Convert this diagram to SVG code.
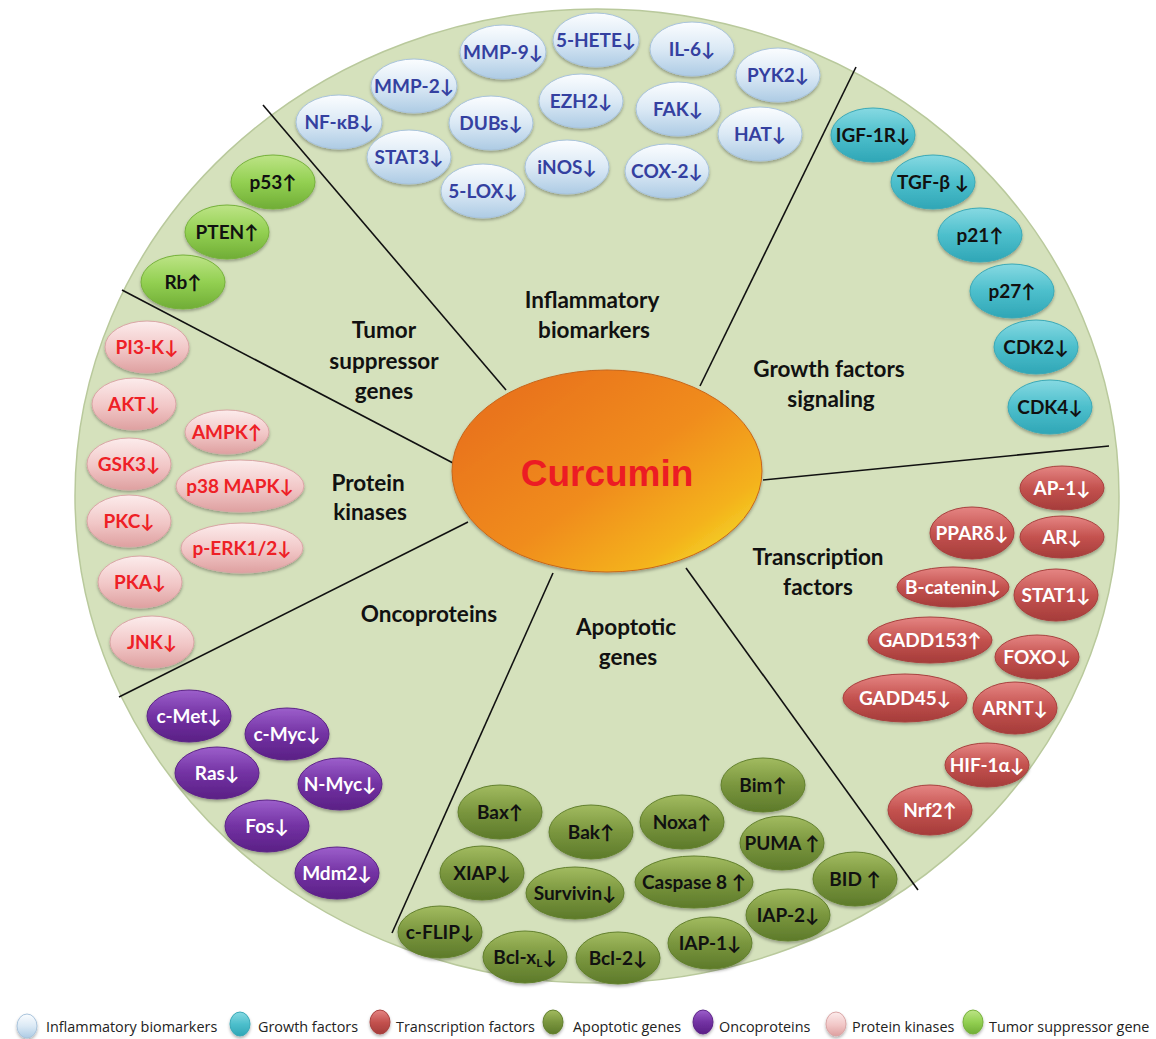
<svg xmlns="http://www.w3.org/2000/svg" width="1156" height="1039" viewBox="0 0 1156 1039">
<defs>
<linearGradient id="gBlue" x1="0" y1="0" x2="0" y2="1"><stop offset="0" stop-color="#fbfdff"/><stop offset="0.5" stop-color="#dbe9f5"/><stop offset="1" stop-color="#adcbe4"/></linearGradient>
<linearGradient id="gTeal" x1="0" y1="0" x2="0" y2="1"><stop offset="0" stop-color="#86d9e2"/><stop offset="0.5" stop-color="#4dbfcc"/><stop offset="1" stop-color="#2fa6b6"/></linearGradient>
<linearGradient id="gRed" x1="0" y1="0" x2="0" y2="1"><stop offset="0" stop-color="#e58583"/><stop offset="0.5" stop-color="#c4524f"/><stop offset="1" stop-color="#a53c3a"/></linearGradient>
<linearGradient id="gOlive" x1="0" y1="0" x2="0" y2="1"><stop offset="0" stop-color="#a2bb60"/><stop offset="0.5" stop-color="#7a963e"/><stop offset="1" stop-color="#5d7a2a"/></linearGradient>
<linearGradient id="gPurple" x1="0" y1="0" x2="0" y2="1"><stop offset="0" stop-color="#9c5fcb"/><stop offset="0.5" stop-color="#7332a3"/><stop offset="1" stop-color="#5a2085"/></linearGradient>
<linearGradient id="gPink" x1="0" y1="0" x2="0" y2="1"><stop offset="0" stop-color="#fcecec"/><stop offset="0.55" stop-color="#f1c6c6"/><stop offset="1" stop-color="#dea0a0"/></linearGradient>
<linearGradient id="gGreen" x1="0" y1="0" x2="0" y2="1"><stop offset="0" stop-color="#bde486"/><stop offset="0.5" stop-color="#93d052"/><stop offset="1" stop-color="#70ad36"/></linearGradient>
<linearGradient id="gCur" x1="0.05" y1="0.15" x2="0.95" y2="0.95"><stop offset="0" stop-color="#e8701e"/><stop offset="0.5" stop-color="#f08c1b"/><stop offset="0.8" stop-color="#f4b21a"/><stop offset="1" stop-color="#f2e331"/></linearGradient>
<filter id="sh" x="-20%" y="-20%" width="140%" height="150%"><feDropShadow dx="0" dy="2" stdDeviation="1.5" flood-color="#000" flood-opacity="0.3"/></filter>
<style>
.bg{fill:#d5e1bc;stroke:#b9c99c;stroke-width:1.5}
.div{stroke:#111;stroke-width:1.6;fill:none}
ellipse.n{filter:url(#sh);stroke-width:1}
.blue{fill:url(#gBlue);stroke:#a8c3dc}
.teal{fill:url(#gTeal);stroke:#3aa9b7}
.red{fill:url(#gRed);stroke:#a8403e}
.olive{fill:url(#gOlive);stroke:#62802d}
.purple{fill:url(#gPurple);stroke:#5d2388}
.pink{fill:url(#gPink);stroke:#d9a5a5}
.green{fill:url(#gGreen);stroke:#76b13b}
text{font-family:Lato,"DejaVu Sans",sans-serif;font-weight:bold;text-anchor:middle}
.t{font-size:19px}
.tb{fill:#3440a0}
.tk{fill:#111}
.tw{fill:#fff}
.tr{fill:#ee2026}
.lab{font-size:22.5px;fill:#111}
.leg{font-family:"Open Sans","DejaVu Sans",sans-serif;font-weight:normal;font-size:14.4px;fill:#222;text-anchor:start}
</style>
</defs>
<rect width="1156" height="1039" fill="#fff"/>
<ellipse class="bg" cx="597" cy="496" rx="522" ry="487"/>

<g id="connectors">
<line class="div" x1="263" y1="105" x2="506" y2="390"/>
<line class="div" x1="122" y1="290" x2="453" y2="463"/>
<line class="div" x1="119" y1="697" x2="468" y2="522"/>
<line class="div" x1="553" y1="573" x2="392" y2="933"/>
<line class="div" x1="686" y1="568" x2="918" y2="890"/>
<line class="div" x1="763" y1="480" x2="1109" y2="446"/>
<line class="div" x1="700" y1="386" x2="856" y2="67"/>
</g>

<g id="curcumin"><ellipse cx="607" cy="471" rx="155" ry="101" fill="url(#gCur)" stroke="#c8661a" stroke-width="1" filter="url(#sh)"/><text x="607" y="486" style="font-family:'Liberation Sans',Arial,sans-serif;font-size:37px;fill:#ec1c24">Curcumin</text></g>

<g id="labels">
<text class="lab" x="592" y="308">Inflammatory</text><text class="lab" x="594" y="338">biomarkers</text>
<text class="lab" x="384" y="338">Tumor</text><text class="lab" x="384" y="369">suppressor</text><text class="lab" x="384" y="399">genes</text>
<text class="lab" x="829" y="377">Growth factors</text><text class="lab" x="831" y="407">signaling</text>
<text class="lab" x="368" y="491">Protein</text><text class="lab" x="370" y="520">kinases</text>
<text class="lab" x="818" y="565">Transcription</text><text class="lab" x="818" y="595">factors</text>
<text class="lab" x="429" y="622">Oncoproteins</text>
<text class="lab" x="626" y="635">Apoptotic</text><text class="lab" x="628" y="665">genes</text>
</g>

<!-- Inflammatory biomarkers -->
<g id="n-mmp9"><ellipse class="n blue" cx="503" cy="52" rx="43" ry="27"/><text class="t tb" x="503" y="59">MMP-9↓</text></g>
<g id="n-5hete"><ellipse class="n blue" cx="596" cy="40" rx="43" ry="27"/><text class="t tb" x="596" y="47">5-HETE↓</text></g>
<g id="n-il6"><ellipse class="n blue" cx="692" cy="49" rx="42" ry="27"/><text class="t tb" x="692" y="56">IL-6↓</text></g>
<g id="n-pyk2"><ellipse class="n blue" cx="778" cy="75" rx="42" ry="27"/><text class="t tb" x="778" y="82">PYK2↓</text></g>
<g id="n-mmp2"><ellipse class="n blue" cx="414" cy="86" rx="43" ry="27"/><text class="t tb" x="414" y="93">MMP-2↓</text></g>
<g id="n-ezh2"><ellipse class="n blue" cx="581" cy="101" rx="42" ry="27"/><text class="t tb" x="581" y="108">EZH2↓</text></g>
<g id="n-fak"><ellipse class="n blue" cx="678" cy="109" rx="42" ry="27"/><text class="t tb" x="678" y="116">FAK↓</text></g>
<g id="n-hat"><ellipse class="n blue" cx="760" cy="134" rx="42" ry="27"/><text class="t tb" x="760" y="141">HAT↓</text></g>
<g id="n-nfkb"><ellipse class="n blue" cx="339" cy="122" rx="43" ry="27"/><text class="t tb" x="339" y="129">NF-κB↓</text></g>
<g id="n-dubs"><ellipse class="n blue" cx="491" cy="123" rx="42" ry="27"/><text class="t tb" x="491" y="130">DUBs↓</text></g>
<g id="n-stat3"><ellipse class="n blue" cx="409" cy="157" rx="42" ry="27"/><text class="t tb" x="409" y="164">STAT3↓</text></g>
<g id="n-inos"><ellipse class="n blue" cx="567" cy="167" rx="42" ry="27"/><text class="t tb" x="567" y="174">iNOS↓</text></g>
<g id="n-cox2"><ellipse class="n blue" cx="667" cy="171" rx="42" ry="27"/><text class="t tb" x="667" y="178">COX-2↓</text></g>
<g id="n-5lox"><ellipse class="n blue" cx="483" cy="191" rx="42" ry="27"/><text class="t tb" x="483" y="198">5-LOX↓</text></g>

<!-- Tumor suppressor genes -->
<g id="n-p53"><ellipse class="n green" cx="273" cy="182" rx="42" ry="27"/><text class="t tk" x="273" y="189">p53↑</text></g>
<g id="n-pten"><ellipse class="n green" cx="227" cy="232" rx="42" ry="27"/><text class="t tk" x="227" y="239">PTEN↑</text></g>
<g id="n-rb"><ellipse class="n green" cx="183" cy="282" rx="42" ry="27"/><text class="t tk" x="183" y="289">Rb↑</text></g>

<!-- Protein kinases -->
<g id="n-pi3k"><ellipse class="n pink" cx="147" cy="347" rx="42" ry="26"/><text class="t tr" x="147" y="354">PI3-K↓</text></g>
<g id="n-akt"><ellipse class="n pink" cx="134" cy="404" rx="42" ry="26"/><text class="t tr" x="134" y="411">AKT↓</text></g>
<g id="n-ampk"><ellipse class="n pink" cx="227" cy="432" rx="42" ry="22"/><text class="t tr" x="227" y="439">AMPK↑</text></g>
<g id="n-gsk3"><ellipse class="n pink" cx="129" cy="464" rx="42" ry="26"/><text class="t tr" x="129" y="471">GSK3↓</text></g>
<g id="n-p38"><ellipse class="n pink" cx="240" cy="486" rx="64" ry="26"/><text class="t tr" x="240" y="493">p38 MAPK↓</text></g>
<g id="n-pkc"><ellipse class="n pink" cx="129" cy="521" rx="42" ry="26"/><text class="t tr" x="129" y="528">PKC↓</text></g>
<g id="n-perk"><ellipse class="n pink" cx="242" cy="548" rx="61" ry="25"/><text class="t tr" x="242" y="555">p-ERK1/2↓</text></g>
<g id="n-pka"><ellipse class="n pink" cx="140" cy="582" rx="42" ry="26"/><text class="t tr" x="140" y="589">PKA↓</text></g>
<g id="n-jnk"><ellipse class="n pink" cx="152" cy="642" rx="42" ry="26"/><text class="t tr" x="152" y="649">JNK↓</text></g>

<!-- Oncoproteins -->
<g id="n-cmet"><ellipse class="n purple" cx="189" cy="716" rx="42" ry="26"/><text class="t tw" x="189" y="723">c-Met↓</text></g>
<g id="n-cmyc"><ellipse class="n purple" cx="287" cy="734" rx="42" ry="26"/><text class="t tw" x="287" y="741">c-Myc↓</text></g>
<g id="n-ras"><ellipse class="n purple" cx="217" cy="773" rx="42" ry="26"/><text class="t tw" x="217" y="780">Ras↓</text></g>
<g id="n-nmyc"><ellipse class="n purple" cx="340" cy="784" rx="42" ry="26"/><text class="t tw" x="340" y="791">N-Myc↓</text></g>
<g id="n-fos"><ellipse class="n purple" cx="267" cy="826" rx="42" ry="26"/><text class="t tw" x="267" y="833">Fos↓</text></g>
<g id="n-mdm2"><ellipse class="n purple" cx="337" cy="873" rx="42" ry="26"/><text class="t tw" x="337" y="880">Mdm2↓</text></g>

<!-- Apoptotic genes -->
<g id="n-bim"><ellipse class="n olive" cx="763" cy="785" rx="42" ry="27"/><text class="t tk" x="763" y="792">Bim↑</text></g>
<g id="n-bax"><ellipse class="n olive" cx="500" cy="812" rx="42" ry="27"/><text class="t tk" x="500" y="819">Bax↑</text></g>
<g id="n-bak"><ellipse class="n olive" cx="591" cy="832" rx="42" ry="27"/><text class="t tk" x="591" y="839">Bak↑</text></g>
<g id="n-noxa"><ellipse class="n olive" cx="682" cy="822" rx="42" ry="27"/><text class="t tk" x="682" y="829">Noxa↑</text></g>
<g id="n-puma"><ellipse class="n olive" cx="782" cy="843" rx="42" ry="27"/><text class="t tk" x="782" y="850">PUMA ↑</text></g>
<g id="n-xiap"><ellipse class="n olive" cx="482" cy="873" rx="42" ry="27"/><text class="t tk" x="482" y="880">XIAP↓</text></g>
<g id="n-casp8"><ellipse class="n olive" cx="694" cy="882" rx="59" ry="26"/><text class="t tk" x="694" y="889">Caspase 8 ↑</text></g>
<g id="n-surv"><ellipse class="n olive" cx="575" cy="893" rx="49" ry="26"/><text class="t tk" x="575" y="900">Survivin↓</text></g>
<g id="n-bid"><ellipse class="n olive" cx="855" cy="879" rx="42" ry="27"/><text class="t tk" x="855" y="886">BID ↑</text></g>
<g id="n-iap2"><ellipse class="n olive" cx="788" cy="915" rx="42" ry="26"/><text class="t tk" x="788" y="922">IAP-2↓</text></g>
<g id="n-cflip"><ellipse class="n olive" cx="440" cy="932" rx="42" ry="26"/><text class="t tk" x="440" y="939">c-FLIP↓</text></g>
<g id="n-iap1"><ellipse class="n olive" cx="710" cy="943" rx="42" ry="26"/><text class="t tk" x="710" y="950">IAP-1↓</text></g>
<g id="n-bclxl"><ellipse class="n olive" cx="525" cy="957" rx="42" ry="26"/><text class="t tk" x="525" y="964">Bcl-x<tspan font-size="12" dy="3">L</tspan><tspan dy="-3">↓</tspan></text></g>
<g id="n-bcl2"><ellipse class="n olive" cx="618" cy="958" rx="42" ry="26"/><text class="t tk" x="618" y="965">Bcl-2↓</text></g>

<!-- Growth factors -->
<g id="n-igf1r"><ellipse class="n teal" cx="873" cy="135" rx="42" ry="27"/><text class="t tk" x="873" y="142">IGF-1R↓</text></g>
<g id="n-tgfb"><ellipse class="n teal" cx="933" cy="182" rx="42" ry="27"/><text class="t tk" x="933" y="189">TGF-β ↓</text></g>
<g id="n-p21"><ellipse class="n teal" cx="980" cy="235" rx="42" ry="27"/><text class="t tk" x="980" y="242">p21↑</text></g>
<g id="n-p27"><ellipse class="n teal" cx="1012" cy="291" rx="42" ry="27"/><text class="t tk" x="1012" y="298">p27↑</text></g>
<g id="n-cdk2"><ellipse class="n teal" cx="1036" cy="347" rx="42" ry="27"/><text class="t tk" x="1036" y="354">CDK2↓</text></g>
<g id="n-cdk4"><ellipse class="n teal" cx="1050" cy="407" rx="42" ry="27"/><text class="t tk" x="1050" y="414">CDK4↓</text></g>

<!-- Transcription factors -->
<g id="n-ap1"><ellipse class="n red" cx="1062" cy="488" rx="42" ry="22"/><text class="t tw" x="1062" y="495">AP-1↓</text></g>
<g id="n-ppard"><ellipse class="n red" cx="972" cy="533" rx="42" ry="26"/><text class="t tw" x="972" y="540">PPARδ↓</text></g>
<g id="n-ar"><ellipse class="n red" cx="1062" cy="537" rx="42" ry="21"/><text class="t tw" x="1062" y="544">AR↓</text></g>
<g id="n-bcat"><ellipse class="n red" cx="953" cy="587" rx="56" ry="20"/><text class="t tw" x="953" y="594">B-catenin↓</text></g>
<g id="n-stat1"><ellipse class="n red" cx="1056" cy="595" rx="42" ry="26"/><text class="t tw" x="1056" y="602">STAT1↓</text></g>
<g id="n-gadd153"><ellipse class="n red" cx="930" cy="640" rx="62" ry="23"/><text class="t tw" x="930" y="647">GADD153↑</text></g>
<g id="n-foxo"><ellipse class="n red" cx="1037" cy="657" rx="42" ry="22"/><text class="t tw" x="1037" y="664">FOXO↓</text></g>
<g id="n-gadd45"><ellipse class="n red" cx="905" cy="698" rx="62" ry="24"/><text class="t tw" x="905" y="705">GADD45↓</text></g>
<g id="n-arnt"><ellipse class="n red" cx="1015" cy="708" rx="42" ry="26"/><text class="t tw" x="1015" y="715">ARNT↓</text></g>
<g id="n-hif1a"><ellipse class="n red" cx="987" cy="765" rx="42" ry="22"/><text class="t tw" x="987" y="772">HIF-1α↓</text></g>
<g id="n-nrf2"><ellipse class="n red" cx="930" cy="810" rx="42" ry="25"/><text class="t tw" x="930" y="817">Nrf2↑</text></g>

<!-- Legend -->
<g id="legend">
<ellipse class="n blue" cx="27" cy="1026" rx="10" ry="12"/><text class="leg" x="46" y="1032">Inflammatory biomarkers</text>
<ellipse class="n teal" cx="240" cy="1024" rx="10" ry="12"/><text class="leg" x="258" y="1032">Growth factors</text>
<ellipse class="n red" cx="380" cy="1022" rx="10" ry="12"/><text class="leg" x="396" y="1032">Transcription factors</text>
<ellipse class="n olive" cx="553" cy="1022" rx="10" ry="12"/><text class="leg" x="573" y="1032">Apoptotic genes</text>
<ellipse class="n purple" cx="703" cy="1022" rx="10" ry="12"/><text class="leg" x="719" y="1032">Oncoproteins</text>
<ellipse class="n pink" cx="836" cy="1024" rx="10" ry="12"/><text class="leg" x="852" y="1032">Protein kinases</text>
<ellipse class="n green" cx="973" cy="1022" rx="10" ry="12"/><text class="leg" x="989" y="1032">Tumor suppressor gene</text>
</g>
</svg>
